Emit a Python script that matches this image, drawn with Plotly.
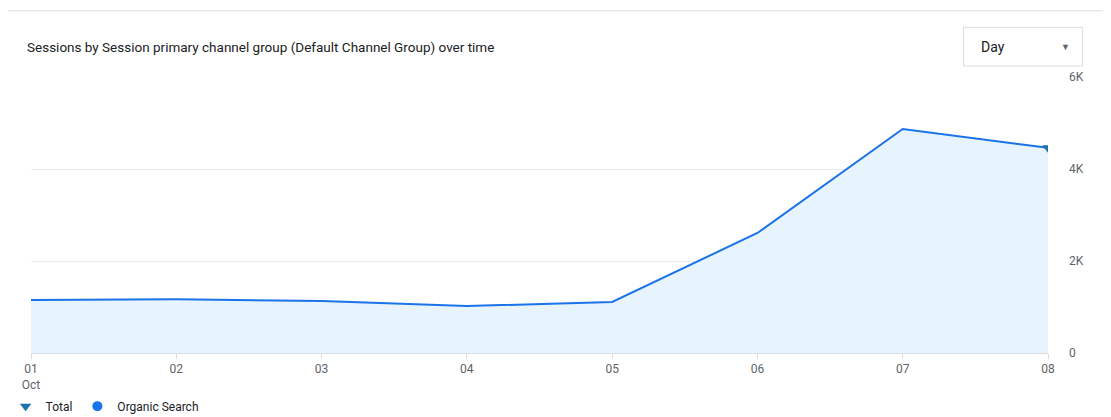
import plotly.graph_objects as go

dates = ["2023-10-01","2023-10-02","2023-10-03","2023-10-04","2023-10-05","2023-10-06","2023-10-07","2023-10-08"]
day_labels = ["01<br>Oct","02","03","04","05","06","07","08"]
sessions = [1150, 1170, 1130, 1020, 1110, 2610, 4870, 4460]
y_ticks = [0, 2000, 4000, 6000]
y_labels = ["0", "2K", "4K", "6K"]

fig = go.Figure()
fig.add_trace(go.Scatter(x=dates, y=sessions, mode="lines", line=dict(color="#1a73e8", width=2),
                         fill="tozeroy", fillcolor="rgba(232,244,253,1)", showlegend=False, hoverinfo="skip"))
fig.add_trace(go.Scatter(x=[dates[-1]], y=[sessions[-1]], mode="markers", name="Total",
                         marker=dict(symbol="triangle-down", size=10, color="#1a73a8")))
fig.add_trace(go.Scatter(x=[None], y=[None], mode="markers", name="Organic Search",
                         marker=dict(symbol="circle", size=10, color="#1a73e8")))

fig.update_layout(
    width=1111, height=417, paper_bgcolor="white", plot_bgcolor="white",
    margin=dict(l=23, r=71, t=69, b=72, autoexpand=False),
    font=dict(family="Roboto, Arial", color="#5f6368", size=12),
    xaxis=dict(tickvals=dates, ticktext=day_labels, showgrid=False, showline=True, linecolor="#dadce0",
               ticks="outside", ticklen=5, tickcolor="#dadce0", range=[dates[0], dates[-1]],
               automargin=False),
    yaxis=dict(side="right", tickvals=y_ticks, ticktext=y_labels, range=[0, 6000], gridcolor="#e8eaed",
               zeroline=False, ticklabelstandoff=20, automargin=False),
    legend=dict(orientation="h", x=-0.025, y=-0.14, xanchor="left", yanchor="top",
                font=dict(size=12, color="#202124"), tracegroupgap=0, itemwidth=30),
    shapes=[
        dict(type="line", xref="paper", yref="paper", x0=-0.03, x1=1.08, y0=1.24, y1=1.24,
             line=dict(color="#dadce0", width=1)),
        dict(type="rect", xref="paper", yref="paper", x0=0.917, x1=1.034, y0=1.04, y1=1.18,
             line=dict(color="#dadce0", width=1), fillcolor="white"),
    ],
    annotations=[
        dict(text="Sessions by Session primary channel group (Default Channel Group) over time",
             xref="paper", yref="paper", x=-0.006, y=1.11, xanchor="left", yanchor="middle",
             showarrow=False, font=dict(size=13.5, color="#202124")),
        dict(text="Day", xref="paper", yref="paper", x=0.932, y=1.11, xanchor="left", yanchor="middle",
             showarrow=False, font=dict(size=14, color="#202124")),
        dict(text="▼", xref="paper", yref="paper", x=1.017, y=1.11, xanchor="center", yanchor="middle",
             showarrow=False, font=dict(size=9, color="#5f6368")),
    ],
)
fig.write_html("out.html")
